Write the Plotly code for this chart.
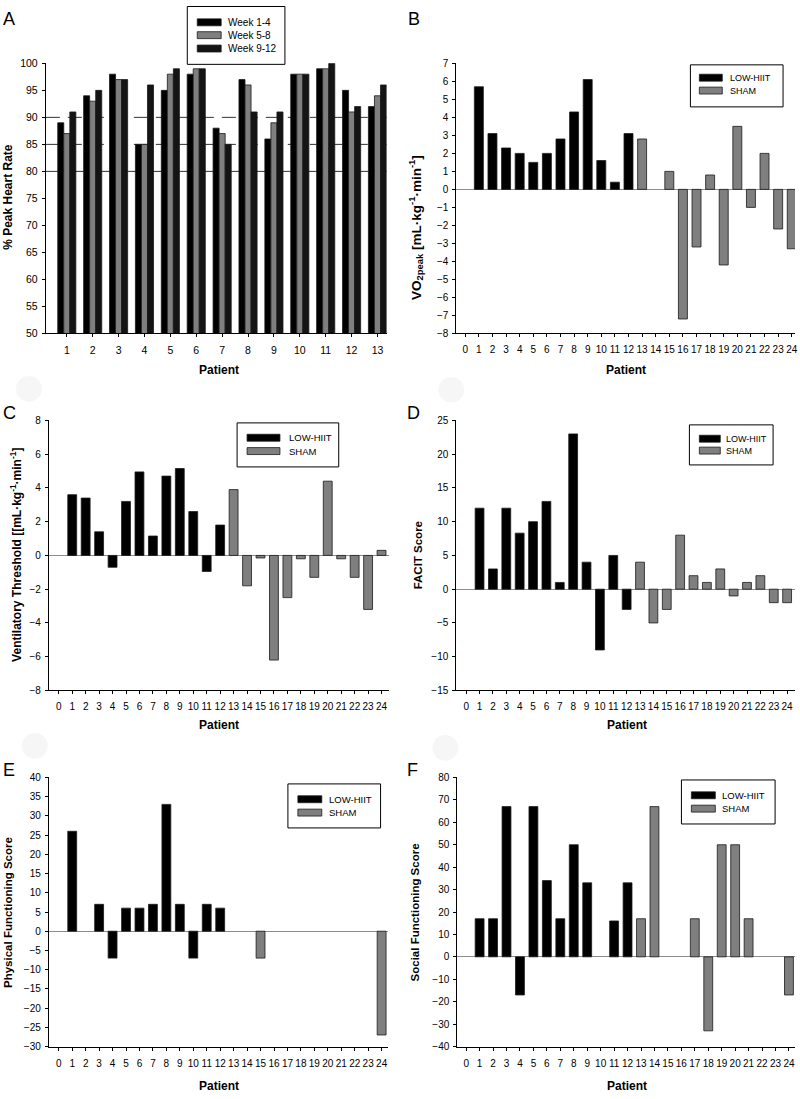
import plotly.graph_objects as go

W, H = 800, 1099
FONT = "Liberation Sans, Arial, sans-serif"

# ---------------- data ----------------
# Panel A: % peak heart rate per training block
patients_a = list(range(1, 14))
week_1_4 = [89, 94, 98, 85, 95, 98, 88, 97, 86, 98, 99, 95, 92]
week_5_8 = [87, 93, 97, 85, 98, 99, 87, 96, 89, 98, 99, 91, 94]
week_9_12 = [91, 95, 97, 96, 99, 99, 85, 91, 91, 98, 100, 92, 96]
ref_lines_a = [90, 85, 80]
series_a_names = ["Week 1-4", "Week 5-8", "Week 9-12"]

# Panels B-F: change per patient
patient_ticks = list(range(0, 25))
hiit_ids = list(range(1, 13))
sham_ids = list(range(13, 25))
vo2_hiit = [5.7, 3.1, 2.3, 2.0, 1.5, 2.0, 2.8, 4.3, 6.1, 1.6, 0.4, 3.1]
vo2_sham = [2.8, 0, 1.0, -7.2, -3.2, 0.8, -4.2, 3.5, -1.0, 2.0, -2.2, -3.3]
vt_hiit = [3.6, 3.4, 1.4, -0.7, 3.2, 4.95, 1.15, 4.7, 5.15, 2.6, -0.95, 1.8]
vt_sham = [3.9, -1.8, -0.15, -6.2, -2.5, -0.2, -1.3, 4.4, -0.2, -1.3, -3.2, 0.3]
facit_hiit = [12, 3, 12, 8.3, 10, 13, 1, 23, 4, -9, 5, -3]
facit_sham = [4, -5, -3, 8, 2, 1, 3, -1, 1, 2, -2, -2]
pf_hiit = [26, 0, 7, -7, 6, 6, 7, 33, 7, -7, 7, 6]
pf_sham = [0, 0, -7, 0, 0, 0, 0, 0, 0, 0, 0, -27]
sf_hiit = [17, 17, 67, -17, 67, 34, 17, 50, 33, 0, 16, 33]
sf_sham = [17, 67, 0, 0, 17, -33, 50, 50, 17, 0, 0, -17]
group_names = ["LOW-HIIT", "SHAM"]

# ---------------- style / layout ----------------
BLACK = "#000000"
GRAY = "#7f7f7f"
DARK = "#141414"
OUTLINE = "#1a1a1a"


def px(x):
    return x / W


def py(y):
    return 1 - y / H


panels = [
    dict(letter="A", box=(46, 388, 58, 331), xr=[0.19, 13.35], yr=[50, 100], dt=5,
         lpos=(1, 1), ytitle="% Peak Heart Rate", yt=(8, 193), xt=(220, 368), ytsize=12),
    dict(letter="B", box=(458, 798, 58, 331), xr=[-0.66, 24.24], yr=[-8, 7], dt=1,
         lpos=(408, 1),
         ytitle="VO<sub>2peak</sub> [mL·kg<sup>-1</sup>·min<sup>-1</sup>]",
         yt=(417, 224), xt=(628, 368), ytsize=13.5),
    dict(letter="C", box=(49, 390, 419, 692), xr=[-0.74, 24.52], yr=[-8, 8], dt=2,
         lpos=(1, 399),
         ytitle="Ventilatory Threshold [[mL·kg<sup>-1</sup>·min<sup>-1</sup>]",
         yt=(16, 555), xt=(220, 727), ytsize=12),
    dict(letter="D", box=(458, 798, 419, 692), xr=[-0.74, 24.59], yr=[-15, 25], dt=5,
         lpos=(407, 399), ytitle="FACIT Score", yt=(420, 555), xt=(629, 727), ytsize=11.5),
    dict(letter="E", box=(49, 389, 780, 1052), xr=[-0.74, 24.44], yr=[-30, 40], dt=5,
         lpos=(1, 760), ytitle="Physical Functioning Score", yt=(8, 916), xt=(220, 1092),
         ytsize=11.5),
    dict(letter="F", box=(459, 798, 780, 1052), xr=[-0.66, 24.45], yr=[-40, 80], dt=10,
         lpos=(407, 760), ytitle="Social Functioning Score", yt=(417, 916), xt=(629, 1092),
         ytsize=11.5),
]

legends = [
    dict(box=(188, 0, 286, 59), sx=(198, 222), sy=[16.5, 29.5, 43], sh=7, tx=227, fs=10,
         labels=series_a_names, colors=[BLACK, GRAY, DARK]),
    dict(box=(693, 59, 786, 102), sx=(702, 725), sy=[72.5, 85.5], sh=7, tx=731, fs=9,
         labels=group_names, colors=[BLACK, GRAY]),
    dict(box=(238, 421, 340, 466), sx=(248, 281), sy=[436.5, 450], sh=7, tx=288, fs=9.5,
         labels=group_names, colors=[BLACK, GRAY]),
    dict(box=(692, 423, 776, 464), sx=(702, 723), sy=[437.5, 449.5], sh=7, tx=727, fs=9,
         labels=group_names, colors=[BLACK, GRAY]),
    dict(box=(289, 786, 382, 831), sx=(299, 323), sy=[802, 815.5], sh=7, tx=328, fs=9.5,
         labels=group_names, colors=[BLACK, GRAY]),
    dict(box=(684, 782, 778, 827), sx=(694, 718), sy=[798, 811.5], sh=7, tx=723, fs=9.5,
         labels=group_names, colors=[BLACK, GRAY]),
]

fig = go.Figure()

# Panel A bars (grouped via explicit offsets)
group_w = 0.7
bw = group_w / 3
for i, (vals, col) in enumerate(zip([week_1_4, week_5_8, week_9_12], [BLACK, GRAY, DARK])):
    fig.add_trace(go.Bar(
        x=patients_a, y=vals, name=series_a_names[i],
        width=bw, offset=-group_w / 2 + i * bw,
        marker=dict(color=col, line=dict(color=OUTLINE, width=0.8)),
        xaxis="x", yaxis="y", showlegend=False))


def nz(vals):
    return [v if v != 0 else None for v in vals]


change_sets = [
    (vo2_hiit, vo2_sham),
    (vt_hiit, vt_sham),
    (facit_hiit, facit_sham),
    (pf_hiit, pf_sham),
    (sf_hiit, sf_sham),
]
bar_w = 0.66
for k, (hv, sv) in enumerate(change_sets, start=2):
    for ids, vals, col, nm in [(hiit_ids, hv, BLACK, group_names[0]),
                               (sham_ids, sv, GRAY, group_names[1])]:
        fig.add_trace(go.Bar(
            x=ids, y=nz(vals), name=nm, width=bar_w, offset=-bar_w / 2,
            marker=dict(color=col, line=dict(color=OUTLINE, width=0.8)),
            xaxis=f"x{k}", yaxis=f"y{k}", showlegend=False))

layout = dict(
    width=W, height=H, margin=dict(l=0, r=0, t=0, b=0),
    paper_bgcolor="white", plot_bgcolor="white",
    barmode="overlay", font=dict(family=FONT, color="black"),
    showlegend=False,
)

annotations = []
shapes = []

for k, p in enumerate(panels, start=1):
    x0, x1, yt_, yb = p["box"]
    sfx = "" if k == 1 else str(k)
    tickvals = patients_a if k == 1 else patient_ticks
    layout[f"xaxis{sfx}"] = dict(
        domain=[px(x0), px(x1)], range=p["xr"], anchor=f"y{sfx}",
        tickmode="array", tickvals=tickvals, ticktext=[str(t) for t in tickvals],
        showline=True, linecolor="black", linewidth=1, ticks="outside", ticklen=3,
        tickcolor="black", tickwidth=1, showgrid=False, zeroline=False, tickangle=0,
        tickfont=dict(size=10.5 if k == 1 else 10, family=FONT), ticklabelstandoff=4,
        ticklabeloverflow="allow", fixedrange=True)
    layout[f"yaxis{sfx}"] = dict(
        domain=[py(yb), py(yt_)], range=p["yr"], anchor=f"x{sfx}", dtick=p["dt"],
        tick0=p["yr"][0],
        showline=True, linecolor="black", linewidth=1, ticks="outside", ticklen=3,
        tickcolor="black", tickwidth=1, showgrid=False,
        zeroline=(k != 1), zerolinecolor="#8c8c8c", zerolinewidth=1,
        tickfont=dict(size=10.5 if k == 1 else 10, family=FONT), ticklabelstandoff=2,
        fixedrange=True)
    annotations.append(dict(
        text=p["letter"], x=px(p["lpos"][0]), y=py(p["lpos"][1]), xref="paper", yref="paper",
        xanchor="left", yanchor="top", showarrow=False,
        font=dict(size=18, family=FONT, color="black")))
    annotations.append(dict(
        text=f"<b>{p['ytitle']}</b>", x=px(p["yt"][0]), y=py(p["yt"][1]),
        xref="paper", yref="paper", xanchor="center", yanchor="middle",
        textangle=-90, showarrow=False, font=dict(size=p["ytsize"], family=FONT)))
    annotations.append(dict(
        text="<b>Patient</b>", x=px(p["xt"][0]), y=py(p["xt"][1]),
        xref="paper", yref="paper", xanchor="center", yanchor="middle",
        showarrow=False, font=dict(size=12, family=FONT)))

# reference lines in panel A (behind bars)
for val, dash in zip(ref_lines_a, ["14px,8px", "14px,8px", "solid"]):
    shapes.append(dict(type="line", xref="x domain", yref="y", x0=0, x1=1, y0=val, y1=val,
                       line=dict(color="#333333", width=1, dash=dash), layer="below"))

# faint scan artifacts (light circles) near panel letters
for cx, cy in [(29, 387), (453, 388), (35, 748), (447, 750)]:
    shapes.append(dict(type="circle", xref="paper", yref="paper",
                       x0=px(cx - 13), x1=px(cx + 13), y0=py(cy + 13), y1=py(cy - 13),
                       fillcolor="#f6f6f6", line=dict(width=0), layer="below"))

# custom legends
for lg in legends:
    bx0, by0, bx1, by1 = lg["box"]
    shapes.append(dict(type="rect", xref="paper", yref="paper",
                       x0=px(bx0), x1=px(bx1), y0=py(by1), y1=py(by0 + 0.5),
                       line=dict(color="black", width=1), fillcolor="white"))
    for lab, col, cy in zip(lg["labels"], lg["colors"], lg["sy"]):
        shapes.append(dict(type="rect", xref="paper", yref="paper",
                           x0=px(lg["sx"][0]), x1=px(lg["sx"][1]),
                           y0=py(cy + lg["sh"] / 2), y1=py(cy - lg["sh"] / 2),
                           line=dict(color=OUTLINE, width=0.8), fillcolor=col))
        annotations.append(dict(text=lab, x=px(lg["tx"]), y=py(cy), xref="paper", yref="paper",
                                xanchor="left", yanchor="middle", showarrow=False,
                                font=dict(size=lg["fs"], family=FONT, color="black")))

layout["annotations"] = annotations
layout["shapes"] = shapes
fig.update_layout(**layout)

fig.write_html(
    "out.html",
    config={"displayModeBar": False, "staticPlot": True},
    post_script="document.body.style.margin='0';document.body.style.overflow='hidden';",
)
